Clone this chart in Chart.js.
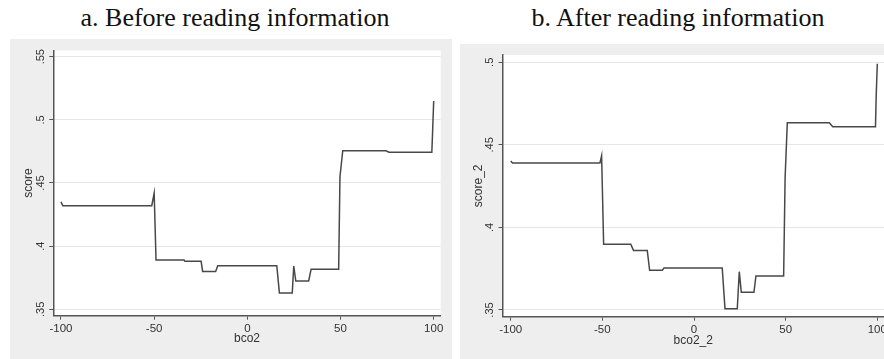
<!DOCTYPE html>
<html><head><meta charset="utf-8">
<script src="https://cdn.jsdelivr.net/npm/chart.js@4.4.1/dist/chart.umd.min.js"></script>
<style>
html,body{margin:0;padding:0;background:#fff;width:884px;height:359px;overflow:hidden;position:relative}
.title{position:absolute;top:3px;font-family:"Liberation Serif","Times New Roman",serif;font-size:26px;line-height:30px;color:#111;white-space:nowrap;transform:translateX(-50%)}
.panel{position:absolute;background:#eeeeee}
canvas{display:block}
</style></head><body>
<div class="title" style="left:235px">a. Before reading information</div>
<div class="title" style="left:678px">b. After reading information</div>
<div class="panel" style="left:10px;top:39px;width:442px;height:320px"><canvas id="cA" width="442" height="320" style="width:442px;height:320px"></canvas></div>
<div class="panel" style="left:460px;top:44px;width:460px;height:315px"><canvas id="cB" width="460" height="315" style="width:460px;height:315px"></canvas></div>
<script>
// Panel a: Before reading information
const bco2   = [-100, -99, -51.3, -50, -49, -34, -33.5, -24.8, -24, -17, -15.9, 15.8, 17.2, 24.1, 24.9, 26, 32.9, 34.2, 49, 49.7, 51.2, 74.4, 76, 99, 99.4, 100];
const score  = [0.435, 0.432, 0.432, 0.442, 0.389, 0.389, 0.388, 0.388, 0.380, 0.380, 0.3845, 0.3845, 0.363, 0.363, 0.3843, 0.3724, 0.3724, 0.3817, 0.3817, 0.455, 0.4755, 0.4755, 0.4744, 0.4744, 0.49, 0.515];
// Panel b: After reading information
const bco2_2  = [-100, -99, -51.3, -50.4, -49.3, -34.5, -33, -25.5, -24.2, -17.3, -16.4, 15.4, 16.9, 23.6, 24.7, 25.8, 32.7, 33.8, 48.9, 49.7, 50.9, 73.8, 75.7, 99, 99.4, 100];
const score_2 = [0.4402, 0.439, 0.439, 0.4434, 0.3898, 0.3898, 0.3861, 0.3861, 0.374, 0.374, 0.3754, 0.3754, 0.3508, 0.3508, 0.3732, 0.3607, 0.3607, 0.3706, 0.3706, 0.43, 0.4634, 0.4634, 0.461, 0.461, 0.48, 0.4991];

const xTicks = [-100, -50, 0, 50, 100];
const xTickLabels = ['-100', '-50', '0', '50', '100'];
const yTicksA = [0.35, 0.4, 0.45, 0.5, 0.55];
const yLabelsA = ['.35', '.4', '.45', '.5', '.55'];
const yTicksB = [0.35, 0.4, 0.45, 0.5];
const yLabelsB = ['.35', '.4', '.45', '.5'];

const plotBg = {
  id: 'plotBg',
  beforeDraw(chart) {
    const {ctx, chartArea: a} = chart;
    ctx.save();
    ctx.fillStyle = '#ffffff';
    ctx.fillRect(a.left, a.top, a.right - a.left, a.bottom - a.top);
    ctx.restore();
  }
};

const AX = '#555555';
const TXT = '#333333';
const SANS = '"Liberation Sans", Arial, sans-serif';

function makeChart(id, xs, ys, xTitle, yTitle, xr, yr, yTicks, yLabels, pad, yW, xH, yTitlePad, xTitlePad) {
  return new Chart(document.getElementById(id), {
    type: 'line',
    data: { datasets: [{
      data: xs.map((x, i) => ({x: x, y: ys[i]})),
      borderColor: '#484848', borderWidth: 1.5, pointRadius: 0, tension: 0, fill: false
    }]},
    options: {
      responsive: false, animation: false, events: [],
      plugins: { legend: {display: false}, tooltip: {enabled: false} },
      layout: { padding: pad },
      scales: {
        x: {
          type: 'linear', min: xr[0], max: xr[1],
          afterBuildTicks: s => { s.ticks = xTicks.map(v => ({value: v})); },
          ticks: { callback: (v, i) => xTickLabels[i], font: {family: SANS, size: 11.5}, color: TXT, padding: 2, maxRotation: 0, autoSkip: false },
          grid: { drawOnChartArea: false, drawTicks: true, tickLength: 4, tickColor: AX, tickWidth: 1 },
          border: { display: true, color: AX, width: 1.5 },
          title: { display: true, text: xTitle, font: {family: SANS, size: 12}, color: TXT, padding: {top: 0, bottom: xTitlePad} },
          afterFit: s => { s.height = xH; }
        },
        y: {
          type: 'linear', min: yr[0], max: yr[1],
          afterBuildTicks: s => { s.ticks = yTicks.map(v => ({value: v})); },
          ticks: { callback: (v, i) => yLabels[i], font: {family: SANS, size: 11}, color: TXT, padding: 1, minRotation: 90, maxRotation: 90, crossAlign: 'center', autoSkip: false },
          grid: { color: '#e6e6e6', lineWidth: 1, drawTicks: true, tickLength: 4, tickColor: AX, tickWidth: 1 },
          border: { display: true, color: AX, width: 1.5 },
          title: { display: true, text: yTitle, font: {family: SANS, size: 12}, color: TXT, padding: {top: yTitlePad, bottom: 0} },
          afterFit: s => { s.width = yW; }
        }
      }
    },
    plugins: [plotBg]
  });
}

makeChart('cA', bco2, score, 'bco2', 'score', [-104.13, 103.76], [0.34493, 0.55491], yTicksA, yLabelsA,
  {left: 0, top: 11.5, right: 11.3, bottom: 0}, 43.3, 43.3, 11.8, 13);
makeChart('cB', bco2_2, score_2, 'bco2_2', 'score_2', [-104.47, 103.65], [0.34594, 0.50442], yTicksB, yLabelsB,
  {left: 0, top: 11, right: 36, bottom: 0}, 42.5, 42.3, 11.8, 11);
</script>
</body></html>
